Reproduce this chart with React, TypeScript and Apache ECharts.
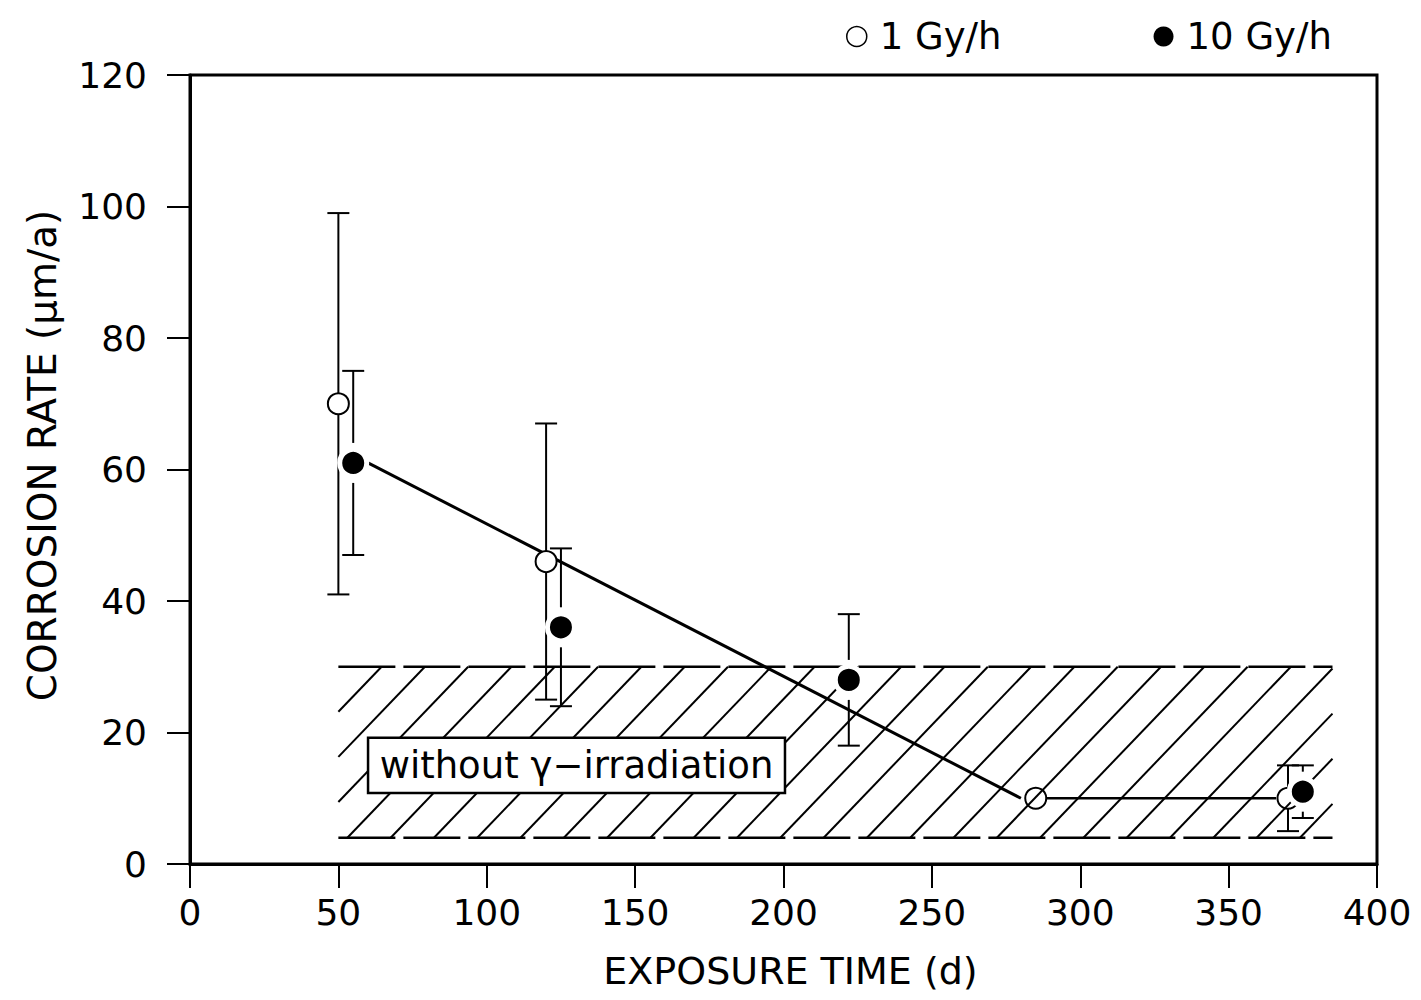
import React, { useEffect, useRef } from "react";
import * as echarts from "echarts";

// ---- data ----
const openX = [50, 120, 285, 370];
const openY = [70, 46, 10, 10];
const openLow = [41, 25, null, 5];
const openHigh = [99, 67, null, 15];

const filledX = [55, 125, 222, 375];
const filledY = [61, 36, 28, 11];
const filledLow = [47, 24, 18, 7];
const filledHigh = [75, 48, 38, 15];

const fitSlopeX = [60, 280];
const fitSlopeY = [61, 10];
const fitFlatX = [288, 366];
const fitFlatY = [10, 10];

const bandX = [50, 385];
const bandY = [4, 30];

const labelBoxX = [60, 200.5];
const labelBoxY = [10.8, 19.2];
const labelText = "without γ−irradiation";

const seriesNames = ["1 Gy/h", "10 Gy/h"];

const FONT = "DejaVu Sans";

function errData(xs: number[], ys: number[], lo: (number | null)[], hi: (number | null)[]) {
  const out: number[][] = [];
  xs.forEach((x, i) => {
    if (lo[i] != null && hi[i] != null) out.push([x, ys[i], lo[i] as number, hi[i] as number]);
  });
  return out;
}

function errorRender(gap: number) {
  return (params: any, api: any) => {
    const x = api.value(0);
    const y = api.value(1);
    const lo = api.value(2);
    const hi = api.value(3);
    const c = api.coord([x, y]);
    const pl = api.coord([x, lo]);
    const ph = api.coord([x, hi]);
    const w = 11;
    const st = { stroke: "#000", lineWidth: 2 };
    const children: any[] = [];
    if (c[1] - gap > ph[1]) children.push({ type: "line", shape: { x1: c[0], y1: ph[1], x2: c[0], y2: c[1] - gap }, style: st });
    if (c[1] + gap < pl[1]) children.push({ type: "line", shape: { x1: c[0], y1: c[1] + gap, x2: c[0], y2: pl[1] }, style: st });
    children.push({ type: "line", shape: { x1: c[0] - w, y1: ph[1], x2: c[0] + w, y2: ph[1] }, style: st });
    children.push({ type: "line", shape: { x1: c[0] - w, y1: pl[1], x2: c[0] + w, y2: pl[1] }, style: st });
    return { type: "group", children };
  };
}

function hatchRender(params: any, api: any) {
  const p0 = api.coord([api.value(0), api.value(1)]);
  const p1 = api.coord([api.value(2), api.value(3)]);
  const L = p0[0], B = p0[1], R = p1[0], T = p1[1];
  const H = B - T;
  const k = 0.96;
  const s = 43.3;
  const phase = 9;
  const children: any[] = [];
  const st = { stroke: "#000", lineWidth: 2 };
  const nNeg = Math.ceil((H * k) / s) + 1;
  for (let i = -nNeg; ; i++) {
    const xb = L + phase + i * s;
    if (xb > R) break;
    let xs = xb, ys = B;
    let xe = xb + k * H, ye = T;
    if (xe < L) continue;
    if (xs < L) { xs = L; ys = B - (L - xb) / k; }
    if (xe > R) { xe = R; ye = B - (R - xb) / k; }
    children.push({ type: "line", shape: { x1: xs, y1: ys, x2: xe, y2: ye }, style: st });
  }
  const dash = { stroke: "#000", lineWidth: 2.5, lineDash: [57, 8] };
  children.push({ type: "line", shape: { x1: L, y1: T, x2: R, y2: T }, style: dash });
  children.push({ type: "line", shape: { x1: L, y1: B, x2: R, y2: B }, style: dash });
  return { type: "group", children };
}

function labelRender(params: any, api: any) {
  const p0 = api.coord([api.value(0), api.value(1)]);
  const p1 = api.coord([api.value(2), api.value(3)]);
  const x = p0[0], y = p1[1], w = p1[0] - p0[0], h = p0[1] - p1[1];
  return {
    type: "group",
    children: [
      { type: "rect", shape: { x, y, width: w, height: h }, style: { fill: "#fff", stroke: "#000", lineWidth: 2.5 } },
      {
        type: "text",
        x: x + w / 2,
        y: y + h / 2,
        style: { text: labelText, fill: "#000", font: `37px "${FONT}"`, align: "center", verticalAlign: "middle" },
      },
    ],
  };
}

export default function App() {
  const ref = useRef<HTMLDivElement>(null);
  useEffect(() => {
    if (!ref.current) return;
    const chart = echarts.init(ref.current, undefined, { renderer: "svg" });
    const option: any = {
      animation: false,
      backgroundColor: "#fff",
      textStyle: { fontFamily: FONT },
      grid: {
        left: 190,
        right: 44,
        top: 75,
        bottom: 136,
        show: true,
        borderColor: "#000",
        borderWidth: 3,
        outerBoundsMode: "none",
        containLabel: false,
      },
      legend: {
        left: 841,
        top: 13,
        itemWidth: 20,
        itemHeight: 20,
        itemGap: 152,
        icon: "circle",
        textStyle: { fontFamily: FONT, fontSize: 37, color: "#000", padding: [0, 0, 0, 8] },
        data: [
          { name: seriesNames[0], itemStyle: { color: "rgba(0,0,0,0)", borderColor: "#000", borderWidth: 1.5 } },
          { name: seriesNames[1], itemStyle: { color: "#000", borderWidth: 0 } },
        ],
      },
      xAxis: {
        type: "value",
        min: 0,
        max: 400,
        interval: 50,
        name: "EXPOSURE TIME (d)",
        nameLocation: "middle",
        nameGap: 88,
        nameTextStyle: { fontFamily: FONT, fontSize: 38, color: "#000", padding: [0, 0, 0, 14] },
        axisLine: { show: true, lineStyle: { color: "#000", width: 3 } },
        axisTick: { show: true, inside: false, length: 24, lineStyle: { color: "#000", width: 2 } },
        axisLabel: { margin: 30, fontFamily: FONT, fontSize: 36, color: "#000" },
        splitLine: { show: false },
      },
      yAxis: {
        type: "value",
        min: 0,
        max: 120,
        interval: 20,
        name: "CORROSION RATE (μm/a)",
        nameLocation: "middle",
        nameRotate: 90,
        nameGap: 128,
        nameTextStyle: { fontFamily: FONT, fontSize: 39, color: "#000", padding: [0, 0, 0, 28] },
        axisLine: { show: true, lineStyle: { color: "#000", width: 3 } },
        axisTick: { show: true, inside: false, length: 23, lineStyle: { color: "#000", width: 2 } },
        axisLabel: { margin: 43, fontFamily: FONT, fontSize: 36, color: "#000" },
        splitLine: { show: false },
      },
      series: [
        {
          type: "custom",
          name: "errOpen",
          renderItem: errorRender(10),
          data: errData(openX, openY, openLow, openHigh),
          z: 2,
          silent: true,
        },
        {
          type: "custom",
          name: "errFilled",
          renderItem: errorRender(20),
          data: errData(filledX, filledY, filledLow, filledHigh),
          z: 2,
          silent: true,
        },
        {
          type: "line",
          name: "fit1",
          data: fitSlopeX.map((x, i) => [x, fitSlopeY[i]]),
          symbol: "none",
          lineStyle: { color: "#000", width: 3 },
          z: 3,
          silent: true,
        },
        {
          type: "line",
          name: "fit2",
          data: fitFlatX.map((x, i) => [x, fitFlatY[i]]),
          symbol: "none",
          lineStyle: { color: "#000", width: 2.5 },
          z: 3,
          silent: true,
        },
        {
          type: "scatter",
          name: seriesNames[0],
          data: openX.map((x, i) => [x, openY[i]]),
          symbol: "circle",
          symbolSize: 21,
          itemStyle: { color: "#fff", borderColor: "#000", borderWidth: 2, opacity: 1 },
          z: 4,
        },
        {
          type: "custom",
          name: "hatch",
          renderItem: hatchRender,
          data: [[bandX[0], bandY[0], bandX[1], bandY[1]]],
          z: 5,
          silent: true,
        },
        {
          type: "custom",
          name: "label",
          renderItem: labelRender,
          data: [[labelBoxX[0], labelBoxY[0], labelBoxX[1], labelBoxY[1]]],
          z: 6,
          silent: true,
        },
        {
          type: "scatter",
          name: seriesNames[1],
          data: filledX.map((x, i) => [x, filledY[i]]),
          symbol: "circle",
          symbolSize: 27,
          itemStyle: { color: "#000", borderColor: "#fff", borderWidth: 5, opacity: 1 },
          z: 7,
        },
      ],
    };
    chart.setOption(option);
    return () => chart.dispose();
  }, []);
  return (
    <div
      ref={ref}
      style={{ position: "absolute", left: 0, top: 0, width: 1421, height: 1000, background: "#fff" }}
    />
  );
}
